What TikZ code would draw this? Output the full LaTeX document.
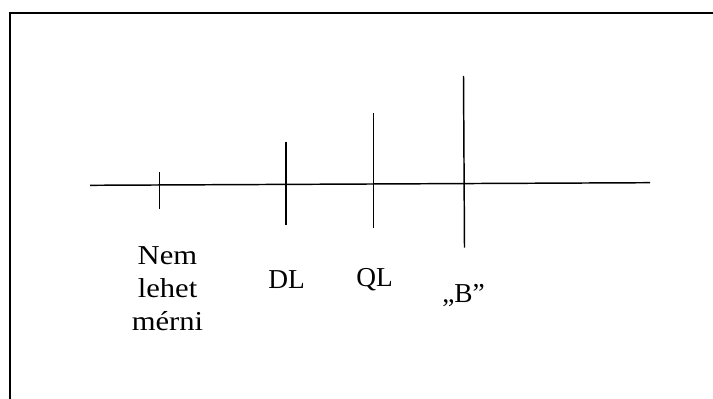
\documentclass[tikz,border=0pt]{standalone}
\usepackage{fontspec}
\setmainfont{Liberation Serif}
\begin{document}
\begin{tikzpicture}[x=0.75pt,y=-0.75pt,
  frame/.style={line width=2.2pt,line cap=rect},
  axisline/.style={line width=1.1pt},
  lbl/.style={font=\fontsize{20.5}{24.4}\selectfont,inner sep=0pt,align=center}]
\useasboundingbox (0,0) rectangle (713,399);
% frame (left and top edges)
\draw[frame] (10,400) -- (10,13) -- (714,13);
% axis
\coordinate (L) at (90,185.3);
\coordinate (R) at (650,182.7);
\draw[axisline] (L) -- (R);
% ticks
\coordinate (t1a) at (159.3,172.3); \coordinate (t1b) at (159.3,209.3);
\coordinate (t2a) at (286,141.7);   \coordinate (t2b) at (286,225);
\coordinate (t3a) at (373.7,113.3); \coordinate (t3b) at (373.7,227.7);
\coordinate (t4a) at (463.5,76);    \coordinate (t4b) at (464.5,247.7);
\draw[axisline] (t1a) -- (t1b);
\draw[axisline] (t2a) -- (t2b);
\draw[axisline] (t3a) -- (t3b);
\draw[axisline] (t4a) -- (t4b);
% labels
\node[lbl,anchor=base,xscale=1.12,transform shape] (nem) at (167.5,330) {Nem\\lehet\\mérni};
\node[lbl,anchor=base] (dl) at (286.5,288.5) {DL};
\node[lbl,anchor=base] (ql) at (374.5,286.7) {QL};
\node[lbl,anchor=base] (b) at (463.5,302) {„B”};
\end{tikzpicture}
\end{document}
